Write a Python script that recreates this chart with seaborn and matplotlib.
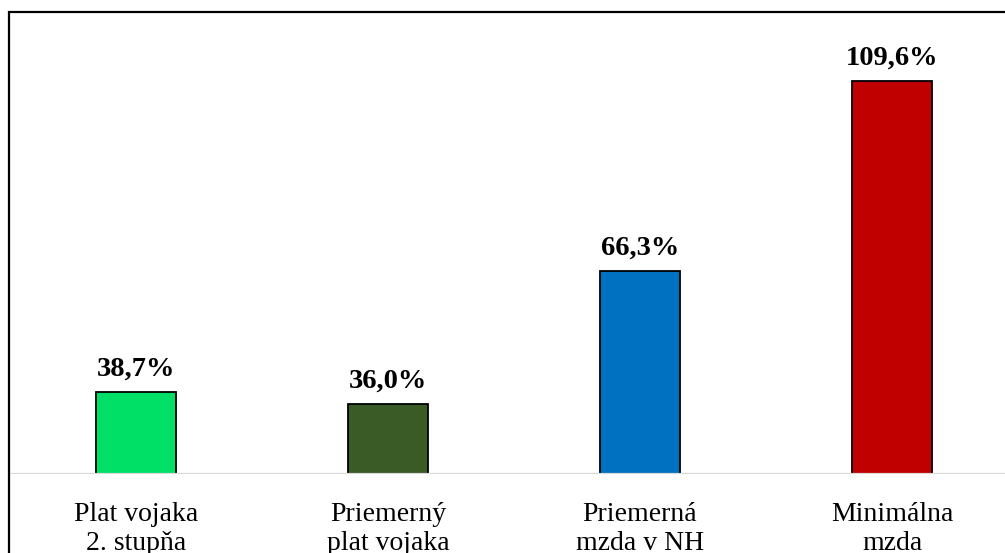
import matplotlib
matplotlib.use("Agg")
import matplotlib.pyplot as plt
import seaborn as sns
import pandas as pd
from matplotlib.patches import Rectangle

categories = ["Plat vojaka\n2. stupňa", "Priemerný\nplat vojaka",
              "Priemerná\nmzda v NH", "Minimálna\nmzda"]
values = [38.7, 36.0, 66.3, 109.6]
value_labels = ["38,7%", "36,0%", "66,3%", "109,6%"]
colors = ["#00DF66", "#3A5A26", "#0070C0", "#C00000"]

sns.set_theme(style="white")
plt.rcParams["font.family"] = ["Liberation Serif", "DejaVu Serif"]

df = pd.DataFrame({"kategoria": categories, "hodnota": values})

fig = plt.figure(figsize=(10.05, 5.53), dpi=100)
ax = fig.add_axes([10 / 1005, 1 - 474 / 553, 1008 / 1005, (474 - 35) / 553])

sns.barplot(data=df, x="kategoria", y="hodnota", hue="kategoria",
            palette=colors, saturation=1, legend=False, width=0.317,
            edgecolor="black", linewidth=1.3, ax=ax, zorder=2)

ax.set_ylim(20, 120)
ax.set_xlim(-0.5, 3.5)
ax.axhline(20, color="#D9D9D9", lw=1.6, zorder=3)

for patch, lab in zip(ax.patches, value_labels):
    ax.annotate(lab, (patch.get_x() + patch.get_width() / 2, patch.get_height()),
                xytext=(0, 11.5), textcoords="offset points",
                ha="center", va="baseline", fontsize=20.5, fontweight="bold",
                color="black")

for s in ax.spines.values():
    s.set_visible(False)
ax.set_yticks([])
ax.set_xlabel("")
ax.set_ylabel("")
ax.tick_params(axis="x", length=0, pad=20, labelsize=20, labelcolor="black")
for t in ax.get_xticklabels():
    t.set_linespacing(1.2)

# outer chart frame
fig.add_artist(Rectangle((8.5 / 1005, -0.2), 1.5, 1.2 - 11.5 / 553,
                         transform=fig.transFigure, fill=False,
                         edgecolor="black", linewidth=1.6, clip_on=False))

fig.savefig("out.png", dpi=100)
